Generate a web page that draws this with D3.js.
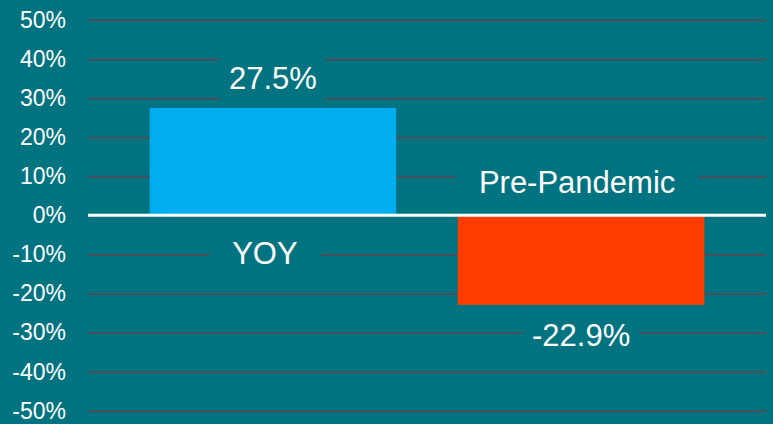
<!DOCTYPE html>
<html>
<head>
<meta charset="utf-8">
<script src="https://cdn.jsdelivr.net/npm/d3@7"></script>
<style>
  html, body { margin: 0; padding: 0; background: #007380; }
  svg { display: block; font-family: "Liberation Sans", Arial, sans-serif; }
</style>
</head>
<body>
<div id="chart"></div>
<script>
// Data
var categories = ["YOY", "Pre-Pandemic"];
var values = [0.275, -0.229];
var valueLabels = ["27.5%", "-22.9%"];
var barColors = ["#00AEEF", "#FF3D00"];
var yTicks = [0.5, 0.4, 0.3, 0.2, 0.1, 0, -0.1, -0.2, -0.3, -0.4, -0.5];

var width = 773, height = 424;
var bg = "#007380";

var svg = d3.select("#chart")
  .append("svg")
    .attr("width", width)
    .attr("height", height);

svg.append("rect")
  .attr("width", width)
  .attr("height", height)
  .attr("fill", bg);

// Scales
var x = d3.scaleBand()
  .domain(categories)
  .range([88, 766])
  .paddingInner(0.2)
  .paddingOuter(0.2);

var y = d3.scaleLinear()
  .domain([-0.5, 0.5])
  .range([410.7, 20]);

// Y axis with gridlines (plain hyphen for negatives, like the original)
var pct = d3.format(".0%");
var yAxis = svg.append("g")
  .attr("transform", "translate(88,0)")
  .call(d3.axisLeft(y)
    .tickValues(yTicks)
    .tickSize(-678)
    .tickPadding(22)
    .tickFormat(d => pct(d).replace("\u2212", "-")));

yAxis.select(".domain").remove();
yAxis.selectAll(".tick line")
  .attr("stroke", "#4B4E57")
  .attr("stroke-width", 2);
yAxis.selectAll(".tick text")
  .attr("fill", "#ffffff")
  .style("font-size", "23px")
  .style("font-family", "'Liberation Sans', Arial, sans-serif");

// Bars
svg.selectAll(".bar")
  .data(values)
  .enter()
  .append("rect")
    .attr("class", "bar")
    .attr("x", (d, i) => x(categories[i]))
    .attr("width", x.bandwidth())
    .attr("y", d => y(Math.max(0, d)))
    .attr("height", d => Math.abs(y(d) - y(0)))
    .attr("fill", (d, i) => barColors[i]);

// Zero line
svg.append("line")
  .attr("x1", 88)
  .attr("x2", 766)
  .attr("y1", y(0))
  .attr("y2", y(0))
  .attr("stroke", "#ffffff")
  .attr("stroke-width", 3);

// Labels with boxes masking the gridlines
function addLabel(text, cx, cy, padX) {
  var g = svg.append("g");
  var box = g.append("rect").attr("fill", bg);
  var t = g.append("text")
    .attr("x", cx)
    .attr("y", cy)
    .attr("text-anchor", "middle")
    .attr("dominant-baseline", "central")
    .attr("fill", "#ffffff")
    .style("font-size", "31px")
    .text(text);
  var bb = t.node().getBBox();
  box.attr("x", bb.x - padX)
    .attr("y", bb.y - 4)
    .attr("width", bb.width + padX * 2)
    .attr("height", bb.height + 8);
}

values.forEach(function(d, i) {
  var cx = x(categories[i]) + x.bandwidth() / 2;
  // value label beyond the bar end
  var vy = d >= 0 ? y(d) - 29 : y(d) + 31;
  addLabel(valueLabels[i], cx, vy, 9);
  // category label on the other side of the axis
  var cy = d >= 0 ? y(0) + 38 : y(0) - 33;
  addLabel(categories[i], cx - (d >= 0 ? 8 : 4), cy, 23);
});
</script>
</body>
</html>
